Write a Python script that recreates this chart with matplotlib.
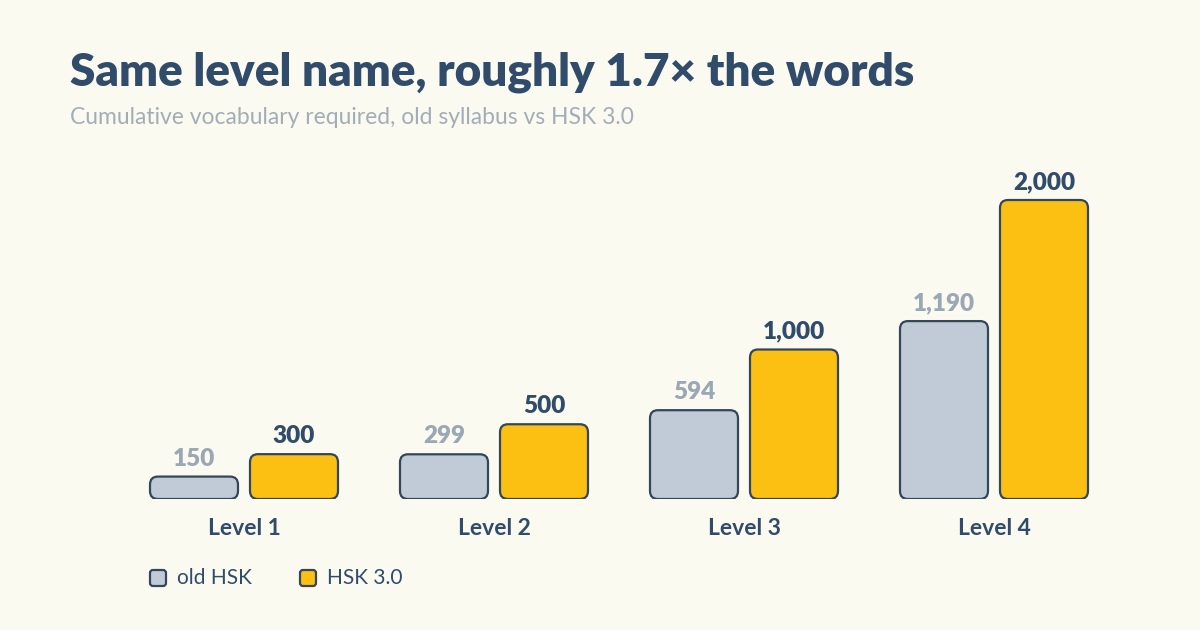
import matplotlib
matplotlib.use("Agg")
import matplotlib.pyplot as plt
from matplotlib.patches import FancyBboxPatch

plt.rcParams["font.family"] = ["Lato", "DejaVu Sans"]

levels = ["Level 1", "Level 2", "Level 3", "Level 4"]
old_hsk = [150, 299, 594, 1190]
hsk30 = [300, 500, 1000, 2000]
series_names = ["old HSK", "HSK 3.0"]

BG = "#fbfaf0"
NAVY = "#314b6b"
EDGE = "#34465a"
OLD_FILL = "#c0cbd7"
NEW_FILL = "#fbc012"
OLD_TEXT = "#9aa7b4"
SUB_TEXT = "#a3adb8"

W, H = 1200, 630
fig = plt.figure(figsize=(W / 100, H / 100), dpi=100, facecolor=BG)

# axes: y=0 at pixel 499, group spacing 250 px, first group centre at x=244 px
px_per_x = 250.0
px_per_y = 299.0 / 2000
ax = fig.add_axes([0, (H - 499) / H, 1, 349 / H])
ax.set_xlim(-244 / px_per_x, (W - 244) / px_per_x)
ax.set_ylim(0, 349 / px_per_y)
ax.axis("off")
ax.patch.set_alpha(0)

bw = 88 / px_per_x
off = 50 / px_per_x
r = 8 / px_per_x
aspect = px_per_x / px_per_y


def rounded_bar(x, h, fill):
    p = FancyBboxPatch((x - bw / 2, 0), bw, h,
                       boxstyle=f"round,pad=0,rounding_size={r}",
                       mutation_aspect=aspect,
                       facecolor=fill, edgecolor=EDGE, linewidth=1.6)
    ax.add_patch(p)


for i, (o, n) in enumerate(zip(old_hsk, hsk30)):
    rounded_bar(i - off, o, OLD_FILL)
    rounded_bar(i + off, n, NEW_FILL)
    ax.annotate(f"{o:,}", (i - off, o), xytext=(0, 5), textcoords="offset points",
                ha="center", va="bottom", fontsize=17.5, fontweight="heavy",
                color=OLD_TEXT)
    ax.annotate(f"{n:,}", (i + off, n), xytext=(0, 5), textcoords="offset points",
                ha="center", va="bottom", fontsize=17.5, fontweight="heavy",
                color=NAVY)
    ax.annotate(levels[i], (i, 0), xytext=(0, -21), textcoords="offset points",
                ha="center", va="center", fontsize=16.5, fontweight="bold",
                color=NAVY)

# title + subtitle
fig.text(70 / W, 1 - 72 / H, "Same level name, roughly 1.7× the words",
         fontsize=33, fontweight="heavy", color=NAVY, va="center", ha="left")
fig.text(70 / W, 1 - 118 / H,
         "Cumulative vocabulary required, old syllabus vs HSK 3.0",
         fontsize=16.5, color=SUB_TEXT, va="center", ha="left")

# legend
leg = fig.add_axes([0, 0, 1, 1])
leg.set_xlim(0, W)
leg.set_ylim(H, 0)
leg.axis("off")
leg.patch.set_alpha(0)
for x0, name, fill in [(150, series_names[0], OLD_FILL), (300, series_names[1], NEW_FILL)]:
    leg.add_patch(FancyBboxPatch((x0, 570), 16, 16,
                                 boxstyle="round,pad=0,rounding_size=3",
                                 facecolor=fill, edgecolor=EDGE, linewidth=1.6))
    leg.text(x0 + 27, 578, name, fontsize=15, color=NAVY, va="center", ha="left")

fig.savefig("out.png", dpi=100, facecolor=BG)
